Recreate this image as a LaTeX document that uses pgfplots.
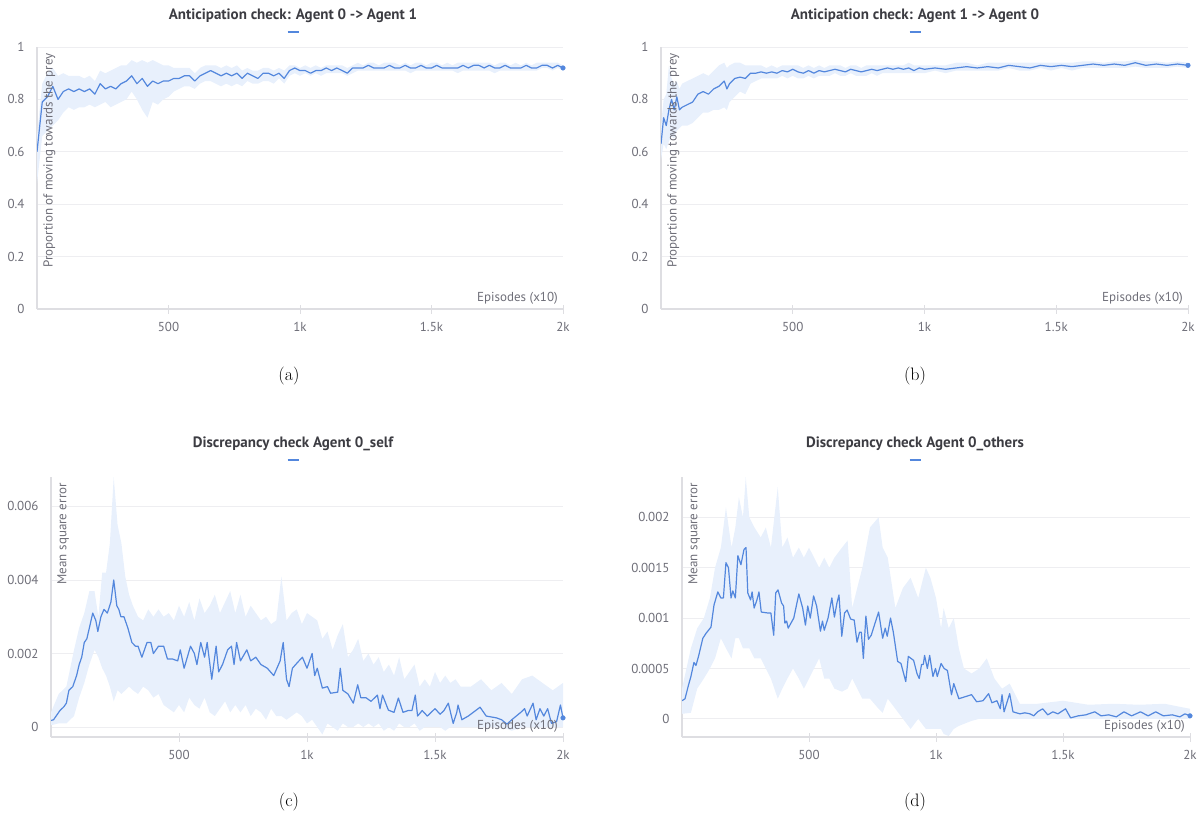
\documentclass[border=0pt]{standalone}
\usepackage{fontspec}
\usepackage{pgfplots}
\pgfplotsset{compat=1.18}
\usepackage{pgfplotstable}
\usepgfplotslibrary{fillbetween}
\newfontfamily\chartfont{PT Sans}

\definecolor{wbblue}{HTML}{5387DD}
\definecolor{wbband}{HTML}{E8F0FC}
\definecolor{axgray}{HTML}{DEDEE2}
\definecolor{grdgray}{HTML}{EEEEF1}
\definecolor{tkgray}{HTML}{6E6E78}
\definecolor{ttgray}{HTML}{3C3C42}

% anticipation checks: x y lo hi
\pgfplotstableread{
x y lo hi
0 0.60 0.48 0.66
20 0.79 0.66 0.86
40 0.81 0.68 0.90
60 0.85 0.70 0.92
80 0.80 0.72 0.89
100 0.83 0.75 0.90
120 0.84 0.77 0.89
140 0.83 0.76 0.89
160 0.84 0.77 0.89
180 0.83 0.77 0.88
200 0.84 0.78 0.89
220 0.82 0.77 0.87
240 0.86 0.78 0.91
260 0.84 0.79 0.90
280 0.85 0.77 0.91
300 0.84 0.78 0.92
320 0.86 0.79 0.93
340 0.87 0.80 0.93
360 0.89 0.83 0.95
380 0.86 0.80 0.94
400 0.88 0.76 0.95
420 0.85 0.73 0.94
440 0.87 0.79 0.95
460 0.86 0.78 0.94
480 0.87 0.80 0.93
500 0.87 0.81 0.93
520 0.88 0.83 0.92
540 0.88 0.84 0.92
560 0.89 0.85 0.92
580 0.89 0.85 0.92
600 0.87 0.84 0.90
620 0.89 0.86 0.92
640 0.90 0.87 0.93
660 0.91 0.87 0.93
680 0.90 0.86 0.93
700 0.89 0.85 0.92
720 0.90 0.86 0.93
740 0.89 0.85 0.92
760 0.90 0.86 0.93
780 0.88 0.85 0.91
800 0.90 0.87 0.92
820 0.89 0.86 0.91
840 0.88 0.86 0.91
860 0.90 0.87 0.92
880 0.90 0.87 0.92
900 0.89 0.86 0.91
920 0.90 0.88 0.92
940 0.88 0.86 0.91
960 0.91 0.89 0.93
980 0.92 0.90 0.93
1000 0.91 0.89 0.92
1020 0.91 0.90 0.93
1040 0.90 0.89 0.92
1060 0.91 0.90 0.93
1080 0.91 0.89 0.92
1100 0.92 0.90 0.93
1120 0.91 0.90 0.93
1140 0.92 0.90 0.93
1160 0.91 0.90 0.93
1180 0.90 0.89 0.92
1200 0.92 0.90 0.93
1220 0.92 0.91 0.94
1240 0.92 0.91 0.93
1260 0.93 0.91 0.94
1280 0.92 0.91 0.94
1300 0.92 0.91 0.93
1320 0.92 0.91 0.94
1340 0.93 0.91 0.94
1360 0.92 0.91 0.94
1380 0.92 0.91 0.93
1400 0.93 0.91 0.94
1420 0.92 0.90 0.93
1440 0.92 0.91 0.94
1460 0.93 0.91 0.94
1480 0.92 0.91 0.93
1500 0.92 0.91 0.94
1520 0.93 0.91 0.94
1540 0.92 0.91 0.93
1560 0.92 0.91 0.94
1580 0.92 0.91 0.93
1600 0.92 0.90 0.94
1620 0.93 0.91 0.94
1640 0.92 0.91 0.94
1660 0.93 0.91 0.94
1680 0.93 0.91 0.94
1700 0.92 0.91 0.94
1720 0.93 0.91 0.94
1740 0.92 0.90 0.93
1760 0.92 0.91 0.94
1780 0.93 0.91 0.94
1800 0.92 0.91 0.93
1820 0.92 0.91 0.94
1840 0.92 0.91 0.93
1860 0.93 0.91 0.94
1880 0.92 0.91 0.93
1900 0.92 0.91 0.94
1920 0.93 0.92 0.94
1940 0.93 0.92 0.94
1960 0.92 0.91 0.94
1980 0.93 0.92 0.94
2000 0.92 0.91 0.93
}\dataA

\pgfplotstableread{
x y lo hi
0 0.63 0.57 0.70
10 0.73 0.63 0.80
20 0.70 0.61 0.82
30 0.76 0.64 0.93
40 0.80 0.66 0.88
50 0.76 0.65 0.86
60 0.81 0.68 0.87
70 0.76 0.69 0.84
80 0.77 0.70 0.86
100 0.78 0.70 0.87
120 0.79 0.71 0.88
140 0.82 0.73 0.89
160 0.83 0.75 0.90
180 0.82 0.75 0.89
200 0.84 0.76 0.91
220 0.85 0.76 0.93
240 0.87 0.77 0.94
250 0.84 0.76 0.92
260 0.86 0.79 0.93
280 0.88 0.81 0.94
300 0.885 0.83 0.94
320 0.88 0.82 0.93
340 0.90 0.86 0.93
360 0.90 0.87 0.93
380 0.905 0.88 0.93
400 0.90 0.88 0.92
420 0.905 0.88 0.93
440 0.90 0.88 0.92
460 0.91 0.89 0.93
480 0.905 0.88 0.93
500 0.915 0.89 0.93
520 0.905 0.88 0.93
540 0.90 0.88 0.92
560 0.91 0.89 0.93
580 0.90 0.88 0.92
600 0.91 0.89 0.93
620 0.905 0.89 0.92
640 0.91 0.89 0.93
660 0.915 0.90 0.93
680 0.91 0.89 0.93
700 0.905 0.89 0.92
720 0.915 0.90 0.93
740 0.91 0.89 0.93
760 0.905 0.89 0.92
780 0.91 0.89 0.93
800 0.915 0.90 0.93
820 0.91 0.89 0.93
840 0.915 0.90 0.93
860 0.92 0.90 0.93
880 0.915 0.90 0.93
900 0.92 0.90 0.93
920 0.915 0.90 0.93
940 0.92 0.90 0.94
960 0.91 0.90 0.93
980 0.92 0.90 0.93
1000 0.915 0.90 0.93
1040 0.92 0.91 0.93
1080 0.915 0.90 0.93
1120 0.92 0.91 0.94
1160 0.925 0.91 0.94
1200 0.92 0.91 0.93
1240 0.925 0.91 0.94
1280 0.92 0.91 0.94
1320 0.93 0.92 0.94
1360 0.925 0.91 0.94
1400 0.92 0.91 0.94
1440 0.93 0.92 0.94
1480 0.925 0.91 0.94
1520 0.93 0.92 0.94
1560 0.925 0.91 0.94
1600 0.93 0.92 0.945
1640 0.935 0.92 0.945
1680 0.93 0.92 0.94
1720 0.935 0.92 0.945
1760 0.93 0.92 0.945
1800 0.94 0.925 0.95
1840 0.93 0.92 0.945
1880 0.935 0.92 0.945
1920 0.93 0.92 0.94
1960 0.935 0.925 0.945
2000 0.93 0.92 0.94
}\dataB

% discrepancy checks: line
\pgfplotstableread{
x y
0 0.00018
10 0.0002
20 0.0003
35 0.00045
50 0.00055
60 0.00065
70 0.001
85 0.0011
100 0.0014
110 0.0017
120 0.0019
130 0.0023
140 0.0024
150 0.0027
163 0.0031
175 0.0029
183 0.0026
195 0.0030
207 0.0032
220 0.0031
234 0.0034
245 0.0040
257 0.0033
265 0.0032
273 0.0030
285 0.0030
300 0.0027
316 0.0023
330 0.0022
340 0.0022
355 0.0019
375 0.0023
390 0.0023
400 0.0020
420 0.0022
440 0.0022
455 0.00185
475 0.00185
495 0.0018
505 0.0021
520 0.0016
545 0.0022
560 0.0020
570 0.0017
585 0.0023
600 0.0019
610 0.0023
628 0.0013
645 0.0022
655 0.0015
670 0.0017
690 0.0021
705 0.0022
715 0.0017
725 0.0023
740 0.0018
765 0.0021
780 0.0018
800 0.0019
820 0.0017
845 0.0016
870 0.0014
895 0.0018
907 0.0023
920 0.0013
930 0.0011
943 0.0016
962 0.00175
982 0.0019
1000 0.0016
1020 0.0020
1030 0.0014
1040 0.0016
1060 0.00106
1080 0.0011
1092 0.00092
1120 0.00095
1130 0.0016
1140 0.0010
1160 0.0009
1181 0.00065
1198 0.00115
1210 0.0008
1230 0.0008
1250 0.0007
1275 0.00087
1285 0.0005
1295 0.00087
1318 0.00046
1340 0.0004
1357 0.00079
1375 0.0004
1395 0.00045
1410 0.00045
1423 0.00087
1432 0.0003
1450 0.00045
1470 0.0003
1500 0.0005
1520 0.00035
1535 0.00045
1552 0.00065
1571 0.0001
1585 0.0004
1590 0.0006
1605 0.0002
1630 0.0003
1676 0.00054
1700 0.0003
1740 0.00025
1760 0.0002
1781 0.00008
1800 0.0002
1835 0.0004
1850 0.0005
1860 0.0003
1883 0.00065
1895 0.0002
1910 0.0005
1925 0.0003
1940 0.0005
1955 0.0001
1975 0.00015
1990 0.0006
2000 0.00025
}\dataC

\pgfplotstableread{
x lo hi
0 0.00005 0.0004
30 0.0001 0.0009
60 0.0001 0.0011
90 0.0003 0.0021
110 0.0008 0.0027
130 0.0012 0.0031
150 0.0017 0.0037
170 0.0021 0.0037
185 0.0019 0.0030
200 0.0016 0.0042
215 0.0014 0.0042
230 0.0011 0.0050
245 0.0007 0.0068
260 0.0010 0.0055
275 0.0009 0.0050
290 0.0010 0.0041
305 0.0011 0.0036
320 0.0010 0.0033
340 0.0009 0.0030
360 0.0011 0.0029
380 0.0010 0.0032
400 0.0008 0.0030
420 0.0009 0.0032
440 0.0006 0.0030
460 0.0005 0.0031
480 0.0004 0.0029
500 0.0006 0.0033
520 0.0004 0.0030
540 0.0008 0.0034
560 0.0006 0.0029
580 0.0005 0.0035
600 0.0008 0.0031
620 0.0004 0.0033
640 0.0003 0.0036
660 0.0005 0.0031
680 0.0007 0.0034
700 0.0004 0.0037
720 0.0006 0.0031
740 0.0004 0.0036
760 0.0006 0.0030
780 0.0003 0.0033
800 0.0005 0.0031
820 0.0004 0.0029
840 0.0002 0.0030
860 0.0005 0.0028
880 0.0003 0.0029
900 0.0003 0.0041
920 0.0002 0.0029
940 0.0003 0.0031
960 0.0004 0.0032
980 0.0003 0.0028
1000 0.0001 0.0031
1020 0.0002 0.0030
1040 0.0000 0.0029
1060 -0.0002 0.0024
1080 0.0001 0.0026
1100 0.0000 0.0021
1120 -0.0001 0.0025
1140 0.0001 0.0028
1160 0.0000 0.0019
1180 0.0000 0.0021
1200 0.0001 0.0024
1220 0.0000 0.0018
1240 0.0001 0.0020
1260 0.0000 0.0017
1280 0.0001 0.0019
1300 -0.0001 0.0015
1320 0.0000 0.0017
1340 -0.0001 0.0014
1360 0.0001 0.0019
1380 0.0000 0.0013
1400 0.0000 0.0015
1420 0.0001 0.0017
1440 -0.0001 0.0011
1460 0.0000 0.0013
1480 0.0000 0.0011
1500 0.0000 0.0015
1520 0.0000 0.0012
1540 -0.0001 0.0014
1560 0.0000 0.0012
1580 0.0000 0.0013
1600 0.0000 0.0011
1640 0.0000 0.0011
1680 0.0000 0.0013
1720 0.0000 0.0010
1760 0.0000 0.0012
1800 -0.0001 0.0009
1840 0.0000 0.0013
1880 0.0000 0.0014
1920 0.0000 0.0012
1960 0.0000 0.0010
2000 0.0000 0.0012
}\bandC

\pgfplotstableread{
x y
0 0.00018
12 0.0002
25 0.00033
35 0.00042
47 0.00056
55 0.00053
65 0.00062
82 0.0008
95 0.00085
114 0.00091
126 0.00113
141 0.00126
153 0.0012
163 0.0012
173 0.00155
183 0.0015
193 0.0012
200 0.00127
210 0.0012
220 0.00162
232 0.00153
244 0.00168
252 0.0017
259 0.00125
270 0.00118
276 0.00126
284 0.0011
295 0.00118
303 0.00126
312 0.00106
340 0.00105
350 0.00105
361 0.00083
369 0.00125
378 0.00128
392 0.00115
400 0.00112
405 0.00095
412 0.00097
418 0.0009
440 0.001
460 0.00124
475 0.0011
486 0.00093
495 0.00112
505 0.00100
518 0.00122
530 0.00112
545 0.00087
553 0.00097
560 0.00088
575 0.001
590 0.0012
600 0.00101
610 0.00115
618 0.00123
629 0.00082
640 0.00105
650 0.00108
664 0.00099
678 0.00098
689 0.00076
699 0.00086
706 0.00086
714 0.0006
724 0.00102
734 0.00079
745 0.00083
760 0.00095
774 0.00106
790 0.0008
800 0.0009
808 0.00082
821 0.001
832 0.00086
849 0.00057
862 0.00055
881 0.00037
891 0.00062
912 0.00058
925 0.00045
934 0.0004
943 0.00054
950 0.00054
955 0.00063
966 0.0005
975 0.00063
988 0.00042
998 0.0005
1005 0.00042
1020 0.00055
1032 0.0005
1045 0.00048
1061 0.00024
1070 0.00035
1090 0.0002
1115 0.00022
1140 0.00024
1160 0.00017
1185 0.00018
1207 0.00025
1220 0.00016
1240 0.00018
1253 0.0001
1260 0.00024
1268 0.00007
1290 0.00025
1303 0.00007
1330 0.00005
1350 0.00006
1370 0.00005
1385 0.00003
1400 0.00007
1420 0.0001
1440 0.00004
1460 0.00007
1480 0.00005
1510 0.0001
1530 0.00001
1560 0.00003
1590 0.00004
1625 0.00007
1650 0.00003
1680 0.00004
1710 0.00002
1740 0.00007
1770 0.00003
1805 0.00007
1835 0.00003
1865 0.00007
1895 0.00003
1930 0.00004
1960 0.00002
1980 0.00005
2000 0.00003
}\dataD

\pgfplotstableread{
x lo hi
0 0.00005 0.0003
35 0.00006 0.0007
60 0.0003 0.0009
86 0.0004 0.0010
110 0.0005 0.0012
130 0.0006 0.0015
153 0.0008 0.0017
173 0.0007 0.0021
195 0.0006 0.0017
210 0.0008 0.0019
224 0.0008 0.0022
240 0.0007 0.0020
251 0.0007 0.0024
265 0.0007 0.0020
285 0.0006 0.0019
310 0.0006 0.0018
330 0.0005 0.0019
350 0.0004 0.0017
377 0.0002 0.0023
395 0.0003 0.0017
415 0.0004 0.0018
437 0.0005 0.0016
460 0.0004 0.0017
480 0.0003 0.0016
500 0.0004 0.0017
520 0.0005 0.0016
540 0.0006 0.0015
560 0.0004 0.0016
580 0.0004 0.0015
600 0.0003 0.0016
630 0.00027 0.0017
652 0.0003 0.00177
670 0.0004 0.0011
690 0.0003 0.0013
710 0.0002 0.0015
740 0.0002 0.0019
774 0.0001 0.0020
790 0.00006 0.0017
810 0.0002 0.0016
840 0.0001 0.0011
870 0.0000 0.0013
900 -0.0001 0.0014
930 0.0000 0.0012
960 -0.0001 0.0015
978 -0.0001 0.0014
1000 -0.0001 0.0012
1020 -0.0001 0.0009
1030 -0.00015 0.0011
1050 -0.00017 0.0009
1070 -0.0001 0.0010
1090 -0.00007 0.0007
1110 -0.00005 0.0005
1140 -0.00002 0.00045
1170 0.0000 0.0005
1200 0.0000 0.0006
1230 0.0000 0.0004
1260 0.0000 0.0003
1290 0.0000 0.00035
1330 0.0000 0.00015
1400 0.0000 0.00015
1500 0.0000 0.00018
1600 0.0000 0.00014
1700 0.0000 0.00015
1800 0.0000 0.00014
1900 0.0000 0.00015
2000 0.0000 0.0001
}\bandD

\pgfplotsset{
  wandb/.style={
    scale only axis,
    anchor=south west,
    xmin=0, xmax=2000,
    axis x line*=bottom, axis y line*=left,
    axis line style={axgray, line width=1.6pt},
    xtick={500,1000,1500,2000},
    xticklabels={500,1k,1.5k,2k},
    xtick align=center,
    major tick length=9pt,
    xtick style={axgray, line width=1pt},
    ytick style={draw=none},
    ymajorgrids, grid style={grdgray, line width=0.8pt},
    scaled y ticks=false,
    /pgf/number format/assume math mode=true,
    ticklabel style={font=\chartfont\fontsize{13}{15}\selectfont, text=tkgray},
    yticklabel style={xshift=-9pt},
    xticklabel style={yshift=-5pt},
    xlabel={Episodes (x10)},
    xlabel style={at={(1,0)}, anchor=south east, inner sep=0pt,
      xshift=-5pt, yshift=4pt,
      font=\chartfont\fontsize{13}{15}\selectfont, text=tkgray},
    ylabel style={at={(0.012,0.977)}, anchor=north east, inner sep=0pt,
      font=\chartfont\fontsize{13}{15}\selectfont, text=tkgray},
  },
  mainline/.style={wbblue, line width=1.2pt, line join=round},
  endmark/.style={only marks, mark=*, mark size=2.3pt, wbblue},
}

\newcommand{\paneltitle}[3]{%
  \node[anchor=base, font=\chartfont\bfseries\fontsize{15}{18}\selectfont, text=ttgray]
    at (#1pt,-#2pt) {#3};
  \draw[wbblue, line width=1.8pt] ({#1pt-5.5pt},{-#2pt-13pt}) -- ({#1pt+5.5pt},{-#2pt-13pt});
}

\begin{document}
\begin{tikzpicture}

% (a)
\begin{axis}[wandb, at={(37pt,-309pt)}, width=526pt, height=262pt,
  ymin=0, ymax=1,
  ytick={0,0.2,0.4,0.6,0.8,1}, yticklabels={0,0.2,0.4,0.6,0.8,1},
  ylabel={Proportion of moving towards the prey}]
  \addplot[name path=aup, draw=none] table[x=x, y=hi] {\dataA};
  \addplot[name path=adn, draw=none] table[x=x, y=lo] {\dataA};
  \addplot[wbband, draw=none] fill between[of=aup and adn];
  \addplot[mainline] table[x=x, y=y] {\dataA};
  \addplot[endmark] coordinates {(2000,0.92)};
\end{axis}

% (b)
\begin{axis}[wandb, at={(661pt,-309pt)}, width=527pt, height=262pt,
  ymin=0, ymax=1,
  ytick={0,0.2,0.4,0.6,0.8,1}, yticklabels={0,0.2,0.4,0.6,0.8,1},
  ylabel={Proportion of moving towards the prey}]
  \addplot[name path=bup, draw=none] table[x=x, y=hi] {\dataB};
  \addplot[name path=bdn, draw=none] table[x=x, y=lo] {\dataB};
  \addplot[wbband, draw=none] fill between[of=bup and bdn];
  \addplot[mainline] table[x=x, y=y] {\dataB};
  \addplot[endmark] coordinates {(2000,0.93)};
\end{axis}

% (c)
\begin{axis}[wandb, at={(51pt,-737pt)}, width=512pt, height=260pt,
  ymin=-0.00027, ymax=0.0068,
  ytick={0,0.002,0.004,0.006}, yticklabels={0,0.002,0.004,0.006},
  ylabel={Mean square error}]
  \addplot[name path=cup, draw=none] table[x=x, y=hi] {\bandC};
  \addplot[name path=cdn, draw=none] table[x=x, y=lo] {\bandC};
  \addplot[wbband, draw=none] fill between[of=cup and cdn];
  \addplot[mainline] table[x=x, y=y] {\dataC};
  \addplot[endmark] coordinates {(2000,0.00025)};
\end{axis}

% (d)
\begin{axis}[wandb, at={(682pt,-737pt)}, width=508pt, height=260pt,
  ymin=-0.00018, ymax=0.0024,
  ytick={0,0.0005,0.001,0.0015,0.002}, yticklabels={0,0.0005,0.001,0.0015,0.002},
  ylabel={Mean square error}]
  \addplot[name path=dup, draw=none] table[x=x, y=hi] {\bandD};
  \addplot[name path=ddn, draw=none] table[x=x, y=lo] {\bandD};
  \addplot[wbband, draw=none] fill between[of=dup and ddn];
  \addplot[mainline] table[x=x, y=y] {\dataD};
  \addplot[endmark] coordinates {(2000,0.00003)};
\end{axis}

\paneltitle{293}{19}{Anticipation check: Agent 0 -> Agent 1}
\paneltitle{915}{19}{Anticipation check: Agent 1 -> Agent 0}
\paneltitle{293}{447}{Discrepancy check Agent 0\_self}
\paneltitle{915}{447}{Discrepancy check Agent 0\_others}

\node[font=\fontsize{18}{21}\selectfont] at (289pt,-376pt) {(a)};
\node[font=\fontsize{18}{21}\selectfont] at (915pt,-376pt) {(b)};
\node[font=\fontsize{18}{21}\selectfont] at (289pt,-802pt) {(c)};
\node[font=\fontsize{18}{21}\selectfont] at (915pt,-802pt) {(d)};

\path (0,0) rectangle (1203pt,-817pt);
\end{tikzpicture}
\end{document}
